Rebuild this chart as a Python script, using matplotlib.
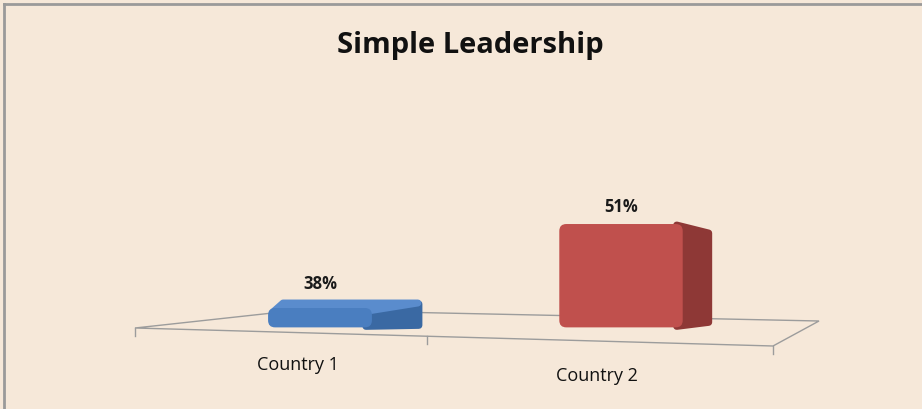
import matplotlib
matplotlib.use("Agg")
import matplotlib.pyplot as plt
from matplotlib.patches import Polygon, FancyBboxPatch
from matplotlib.lines import Line2D

# ---- data ----
categories = ["Country 1", "Country 2"]
values = [38, 51]
value_labels = ["38%", "51%"]
title = "Simple Leadership"

# ---- style ----
BG = "#F6E8D9"
front_colors = ["#4A7EC0", "#C0504D"]
side_colors = ["#3A69A3", "#8E3836"]
top_colors = ["#5A8CCD", "#C85A57"]
FLOOR = "#9C9C9C"
W, H = 922, 410
baseline = 35.0          # value at which bars start (axis floor)
bar_widths = [0.345, 0.41]   # perspective: nearer bar looks wider
# perspective depth of each bar in pixels: (dx, rise of back-top, rise of back-bottom)
depth = [(50, 7, 2), (29, -6, 5)]

fig = plt.figure(figsize=(W / 100, H / 100), dpi=100)
fig.patch.set_facecolor(BG)
ax = fig.add_axes([0, 0, 1, 1])
ax.set_facecolor(BG)
ax.axis("off")

# axis scales: x=0 -> 320px, x=1 -> 621px ; y: 38 -> 309px, 6.46px per unit
px_per_x = 301.0
px_per_y = 6.46
x0_px = 320.0
y38_px = 309.0
ax.set_xlim(-x0_px / px_per_x, (W - x0_px) / px_per_x)
ax.set_ylim(38 - (H - y38_px) / px_per_y, 38 + y38_px / px_per_y)


def P(x, y):
    """pixel (from top-left) -> axes fraction"""
    return (x / W, 1 - y / H)


# frame border (top + left)
ax.add_line(Line2D([0.004, 1], [1 - 4.5 / H, 1 - 4.5 / H], transform=ax.transAxes,
                   color="#9A9A9A", lw=2))
ax.add_line(Line2D([3.5 / W, 3.5 / W], [0, 1 - 4.5 / H], transform=ax.transAxes,
                   color="#9A9A9A", lw=2))

# floor (perspective plane)
floor = [P(135, 329), P(300, 311), P(819, 322), P(773, 347)]
ax.add_patch(Polygon(floor, closed=True, fill=False, edgecolor=FLOOR, lw=1,
                     transform=ax.transAxes, zorder=1))
for tx in (135, 427, 773):
    ty = 329 + (347 - 329) * (tx - 135) / (773 - 135)
    ax.add_line(Line2D([tx / W, tx / W], [1 - ty / H, 1 - (ty + 8) / H],
                       transform=ax.transAxes, color=FLOOR, lw=1, zorder=1))

# bars
xs = list(range(len(categories)))
bars = ax.bar(xs, [v - baseline for v in values], bottom=baseline, width=bar_widths,
              color=front_colors, zorder=3)

to_px = ax.transData.transform
from_px = ax.transData.inverted().transform
aspect = px_per_x / px_per_y
label_tops = []
for b, (dx, rise_top, rise_bot), fc, sc, tc in zip(bars, depth, front_colors,
                                                    side_colors, top_colors):
    x_l, x_r = b.get_x(), b.get_x() + b.get_width()
    y_b, y_t = b.get_y(), b.get_y() + b.get_height()
    (pl, pb), (pr, pt) = to_px((x_l, y_b)), to_px((x_r, y_t))
    side = [(pr - 6, pb + 1), (pr + dx - 3, pb + rise_bot), (pr + dx - 3, pt + rise_top - 3),
            (pr - 6, pt - 1)]
    ax.add_patch(Polygon([from_px(p) for p in side], closed=True, facecolor=sc,
                         edgecolor=sc, lw=5, joinstyle="round", zorder=2.9))
    if rise_top > 0:
        top = [(pl + 6, pt - 3), (pr - 4, pt - 3), (pr + dx - 4, pt + rise_top - 2),
               (pl + 0.3 * dx, pt + rise_top - 2)]
        ax.add_patch(Polygon([from_px(p) for p in top], closed=True, facecolor=tc,
                             edgecolor=tc, lw=5, joinstyle="round", zorder=2.95))
    # rounded front face in place of the plain rectangle
    r = 7 / px_per_x
    ax.add_patch(FancyBboxPatch((x_l, y_b), b.get_width(), b.get_height(),
                                boxstyle=f"round,pad=0,rounding_size={r}",
                                mutation_aspect=aspect, facecolor=fc,
                                edgecolor="none", zorder=3.1))
    b.set_visible(False)
    label_tops.append(from_px((0, pt + max(rise_top, 0)))[1])

# value labels
for x, y, lab in zip(xs, label_tops, value_labels):
    ax.annotate(lab, (x, y), xytext=(0, 13), textcoords="offset points",
                ha="center", va="center", fontsize=12, fontweight="bold",
                family="Open Sans", color="#1A1A1A", zorder=5)

# category labels (perspective offsets)
cat_offsets = [(-22, 37), (-24, 48)]
for x, c, (ox, oy) in zip(xs, categories, cat_offsets):
    ax.annotate(c, (x, baseline), xytext=(ox * 0.72, -oy * 0.72), textcoords="offset points",
                ha="center", va="center", fontsize=13, family="Open Sans",
                color="#111111", zorder=5)

fig.text(470 / W, 1 - 46 / H, title, ha="center", va="center", fontsize=21,
         fontweight="bold", family="Open Sans", color="#111111")

fig.savefig("out.png", dpi=100, facecolor=BG)
